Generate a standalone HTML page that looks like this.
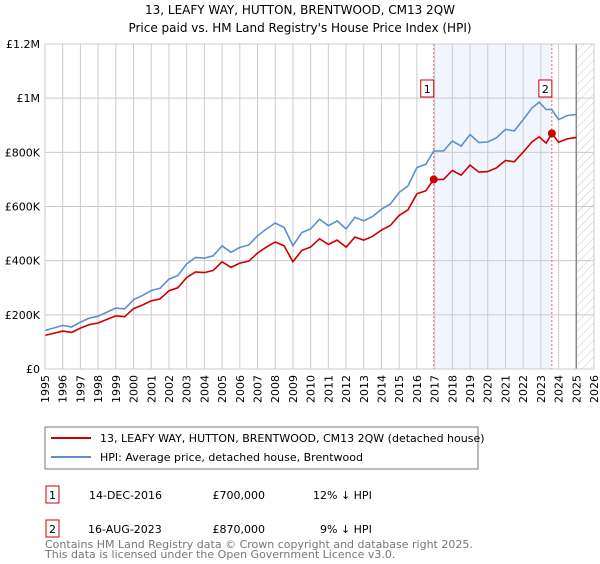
<!DOCTYPE html>
<html><head><meta charset="utf-8"><style>
body{margin:0;background:#fff;width:600px;height:560px;overflow:hidden;font-family:"DejaVu Sans","Liberation Sans",sans-serif;}
svg text{font-family:"DejaVu Sans","Liberation Sans",sans-serif;}
</style></head><body>
<svg id="chart" width="600" height="560">
<defs><pattern id="hatch" width="6" height="6" patternUnits="userSpaceOnUse" patternTransform="rotate(45)"><line x1="0" y1="0" x2="0" y2="6" stroke="#bbb" stroke-width="0.8"/></pattern></defs>
<text x="300" y="14" text-anchor="middle" font-size="12">13, LEAFY WAY, HUTTON, BRENTWOOD, CM13 2QW</text>
<text x="300" y="32" text-anchor="middle" font-size="12">Price paid vs. HM Land Registry's House Price Index (HPI)</text>
<g id="plot"></g>
<rect x="45" y="427" width="433" height="42" fill="#fff" stroke="#777"/>
<line x1="51" y1="438" x2="91" y2="438" stroke="#cc0000" stroke-width="2"/>
<text x="100" y="442" font-size="11">13, LEAFY WAY, HUTTON, BRENTWOOD, CM13 2QW (detached house)</text>
<line x1="51" y1="457" x2="91" y2="457" stroke="#5b8fd0" stroke-width="2"/>
<text x="100" y="461" font-size="11">HPI: Average price, detached house, Brentwood</text>
<g>
<rect x="46" y="486" width="13" height="17" fill="#fff" stroke="#cc0000"/>
<text x="52.5" y="499" font-size="11" text-anchor="middle">1</text>
<text x="89" y="499" font-size="11">14-DEC-2016</text>
<text x="265" y="499" font-size="11" text-anchor="end">£700,000</text>
<text x="313" y="499" font-size="11">12% ↓ HPI</text></g>
<g>
<rect x="46" y="520" width="13" height="17" fill="#fff" stroke="#cc0000"/>
<text x="52.5" y="533" font-size="11" text-anchor="middle">2</text>
<text x="88" y="533" font-size="11">16-AUG-2023</text>
<text x="265" y="533" font-size="11" text-anchor="end">£870,000</text>
<text x="320" y="533" font-size="11">9% ↓ HPI</text></g>
<text x="45" y="548" font-size="11" fill="#777">Contains HM Land Registry data © Crown copyright and database right 2025.</text>
<text x="45" y="558" font-size="11" fill="#777">This data is licensed under the Open Government Licence v3.0.</text>
</svg>
<script>
const yTicks=[0,200000,400000,600000,800000,1000000,1200000];
const yTickLabels=["£0","£200K","£400K","£600K","£800K","£1M","£1.2M"];
const xYears=[1995,1996,1997,1998,1999,2000,2001,2002,2003,2004,2005,2006,2007,2008,2009,2010,2011,2012,2013,2014,2015,2016,2017,2018,2019,2020,2021,2022,2023,2024,2025,2026];
const hpiDates=[1995,1996,1996.5,1997,1997.5,1998,1998.5,1999,1999.5,2000,2000.5,2001,2001.5,2002,2002.5,2003,2003.5,2004,2004.5,2005,2005.5,2006,2006.5,2007,2007.5,2008,2008.5,2009,2009.5,2010,2010.5,2011,2011.5,2012,2012.5,2013,2013.5,2014,2014.5,2015,2015.5,2016,2016.5,2016.95,2017.5,2018,2018.5,2019,2019.5,2020,2020.5,2021,2021.5,2022,2022.5,2022.9,2023.3,2023.62,2024,2024.5,2025];
const hpiValues=[142,161,155,173,188,195,210,225,222,256,271,290,298,332,345,388,412,409,418,455,431,449,458,492,517,539,523,455,504,517,553,529,547,517,560,547,563,590,609,652,676,744,756,805,805,842,823,866,836,838,854,885,879,921,964,985,958,958,921,936,940];
const priceValues=[124,140,135,151,164,170,183,196,193,223,236,252,259,289,300,338,358,356,364,396,375,391,398,428,450,469,455,396,438,450,481,460,476,450,487,476,490,513,530,567,588,647,658,700,700,733,716,753,727,729,743,770,765,801,839,857,834,870,837,850,855];
const saleDates=[2016.95,2023.62];
const saleValues=[700000,870000];
const saleLabels=["1","2"];
const ns="http://www.w3.org/2000/svg";
const X0=45,X1=594,Y0=369,Y1=44;
const xs=y=>X0+(y-1995)/(2026-1995)*(X1-X0);
const ys=v=>Y0-v/1200000*(Y0-Y1);
const g=document.getElementById('plot');
function mk(t,a,p){const e=document.createElementNS(ns,t);for(const k in a)e.setAttribute(k,a[k]);(p||g).appendChild(e);return e;}
let e;
e=mk('rect',{x:xs(saleDates[0]),y:Y1,width:xs(saleDates[1])-xs(saleDates[0]),height:Y0-Y1,fill:'#eef3fc',opacity:0.8});


xYears.forEach(y=>{const l=mk('line',{x1:xs(y),x2:xs(y),y1:Y1,y2:Y0,stroke:'#ccc'});


const t=mk('text',{x:0,y:0,'font-size':11,'text-anchor':'end',transform:`translate(${xs(y)+4},${Y0+6}) rotate(-90)`});t.textContent=y;

});
yTicks.forEach((v,i)=>{const l=mk('line',{x1:X0,x2:X1,y1:ys(v),y2:ys(v),stroke:'#ccc'});


const t=mk('text',{x:40,y:ys(v)+4,'font-size':11,'text-anchor':'end'});t.textContent=yTickLabels[i];

});
e=mk('rect',{x:xs(2025),y:Y1,width:X1-xs(2025),height:Y0-Y1,fill:'url(#hatch)'});


e=mk('line',{x1:xs(2025),x2:xs(2025),y1:Y1,y2:Y0,stroke:'#888','stroke-width':1.5});


saleDates.forEach((d,i)=>{const l=mk('line',{x1:xs(d),x2:xs(d),y1:Y1,y2:Y0,stroke:'#e66','stroke-dasharray':'2,2'});

});
function path(vals,col,name){const d=hpiDates.map((t,i)=>(i?'L':'M')+xs(t).toFixed(1)+','+ys(vals[i]*1000).toFixed(1)).join('');
const p=mk('path',{d:d,fill:'none',stroke:col,'stroke-width':1.6});

}
path(hpiValues,'#5b8fd0','hpi-line');
path(priceValues,'#cc0000','price-line');
saleDates.forEach((d,i)=>{const c=mk('circle',{cx:xs(d),cy:ys(saleValues[i]),r:4,fill:'#cc0000'});


const b=mk('rect',{x:xs(d)-13,y:80,width:13,height:17,fill:'#fff',stroke:'#cc0000'});


const t=mk('text',{x:xs(d)-6.5,y:93,'font-size':11,'text-anchor':'middle'});t.textContent=saleLabels[i];

});
e=mk('rect',{x:X0,y:Y1,width:X1-X0,height:Y0-Y1,fill:'none',stroke:'#ccc'});


</script>
</body></html>
